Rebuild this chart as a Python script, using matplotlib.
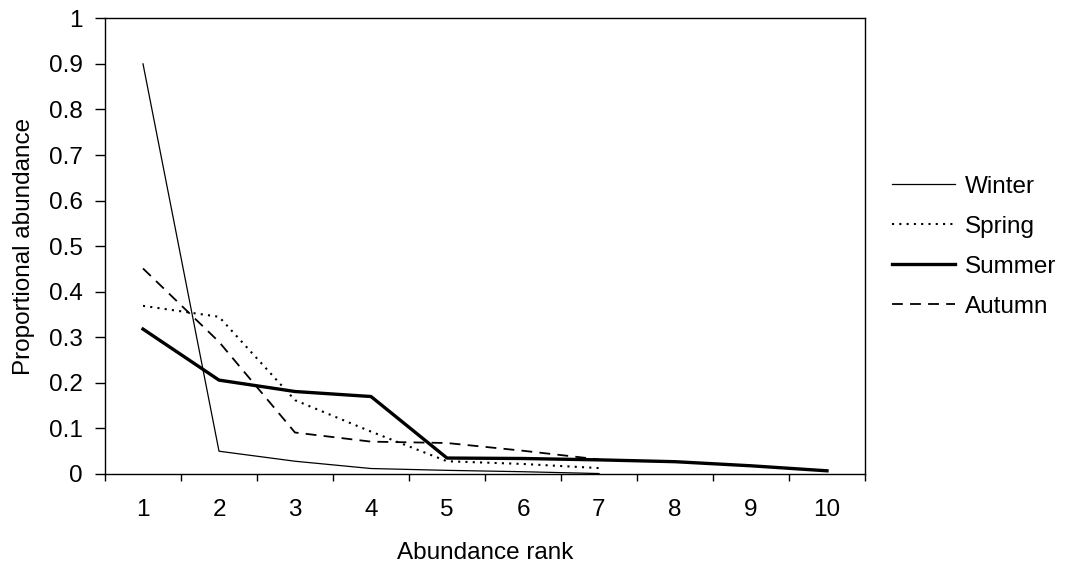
import matplotlib
matplotlib.use("Agg")
import matplotlib.pyplot as plt
from matplotlib.ticker import FixedLocator, NullFormatter

plt.rcParams['font.family'] = ['Liberation Sans', 'DejaVu Sans']

ranks = [1, 2, 3, 4, 5, 6, 7, 8, 9, 10]
winter = [0.90, 0.050, 0.028, 0.012, 0.008, 0.005, 0.001]
spring = [0.369, 0.345, 0.162, 0.093, 0.028, 0.022, 0.013]
summer = [0.318, 0.206, 0.181, 0.170, 0.035, 0.034, 0.031, 0.027, 0.018, 0.007]
autumn = [0.451, 0.290, 0.091, 0.071, 0.068, 0.051, 0.032]
yticks = [0, 0.1, 0.2, 0.3, 0.4, 0.5, 0.6, 0.7, 0.8, 0.9, 1]
ytick_labels = ["0", "0.1", "0.2", "0.3", "0.4", "0.5", "0.6", "0.7", "0.8", "0.9", "1"]

FS = 17.5

fig = plt.figure(figsize=(10.65, 5.68), dpi=100)
ax = fig.add_axes([0.0986, 0.1655, 0.7136, 0.8023])

ax.plot(ranks[:len(winter)], winter, color='black', lw=0.9, label='Winter')
ax.plot(ranks[:len(spring)], spring, color='black', lw=1.5, linestyle=(0, (1, 2.5)), label='Spring')
ax.plot(ranks[:len(summer)], summer, color='black', lw=2.4, label='Summer')
ax.plot(ranks[:len(autumn)], autumn, color='black', lw=1.3, linestyle=(0, (6, 4)), label='Autumn')

ax.set_xlim(0.5, 10.5)
ax.set_ylim(0, 1)
ax.set_yticks(yticks)
ax.set_yticklabels(ytick_labels, fontsize=FS)
ax.xaxis.set_major_locator(FixedLocator([r - 0.5 for r in ranks] + [10.5]))
ax.xaxis.set_major_formatter(NullFormatter())
ax.xaxis.set_minor_locator(FixedLocator(ranks))
ax.set_xticklabels([str(r) for r in ranks], minor=True, fontsize=FS)
ax.tick_params(axis='x', which='major', direction='out', length=5, width=1)
ax.tick_params(axis='x', which='minor', length=0, pad=18)
ax.tick_params(axis='y', direction='out', length=7, width=1, pad=9)

for s in ax.spines.values():
    s.set_linewidth(1)
    s.set_color('black')

ax.set_xlabel("Abundance rank", fontsize=FS, labelpad=15)
ax.set_ylabel("Proportional abundance", fontsize=FS, labelpad=10)

leg = fig.legend(loc='center left', bbox_to_anchor=(0.8376, 0.566), frameon=False,
                 fontsize=FS, handlelength=2.6, handletextpad=0.4, labelspacing=0.74,
                 borderpad=0, borderaxespad=0)

fig.savefig("out.png", dpi=100)
